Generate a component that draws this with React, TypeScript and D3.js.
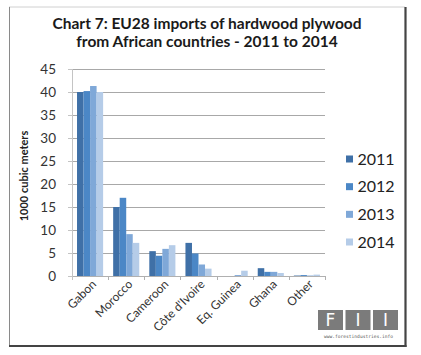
import React from "react";
import * as d3 from "d3";

const categories = ["Gabon", "Morocco", "Cameroon", "Côte d'Ivoire", "Eq. Guinea", "Ghana", "Other"];
const years = ["2011", "2012", "2013", "2014"];
const values2011 = [40, 15, 5.4, 7.2, 0, 1.7, 0.1];
const values2012 = [40.2, 17, 4.4, 4.9, 0, 0.9, 0.2];
const values2013 = [41.3, 9.1, 5.9, 2.5, 0.2, 0.9, 0.1];
const values2014 = [40, 7.2, 6.7, 1.6, 1.15, 0.65, 0.3];
const yTicks = [0, 5, 10, 15, 20, 25, 30, 35, 40, 45];
const colors = ["#3f70a7", "#4b87c6", "#7fa8d8", "#b5cce8"];

const series = [values2011, values2012, values2013, values2014];

export default function App() {
  const W = 421, H = 355;
  const left = 72, right = 325, top = 69, bottom = 276;
  const x = d3.scaleBand<string>().domain(categories).range([left, right]).paddingInner(0).paddingOuter(0);
  const y = d3.scaleLinear().domain([0, 45]).range([bottom, top]);
  const xs = d3.scaleBand<string>().domain(years).range([0, x.bandwidth()]).paddingInner(0).paddingOuter(0.77);
  const font = "Lato, 'Open Sans', sans-serif";
  const legendY = d3.scalePoint<string>().domain(years).range([159, 242]);

  return (
    <svg width={W} height={H} style={{ position: "absolute", left: 0, top: 0, background: "#fff" }}>
      <rect x={0} y={0} width={W} height={H} fill="#fff" />
      {/* frame */}
      <line x1={9} y1={7} x2={405} y2={7} stroke="#d0d0d0" strokeWidth={1} />
      <line x1={9.5} y1={7} x2={9.5} y2={346} stroke="#8a8a8a" strokeWidth={1} />
      <line x1={405.5} y1={7} x2={405.5} y2={347} stroke="#444" strokeWidth={2.2} />
      <line x1={9} y1={346} x2={406.5} y2={346} stroke="#444" strokeWidth={2.2} />

      {/* title */}
      <text x={207} y={29} textAnchor="middle" fontFamily={font} fontWeight="bold" fontSize={15.5} fill="#1a1a1a">
        Chart 7: EU28 imports of hardwood plywood
      </text>
      <text x={207} y={47} textAnchor="middle" fontFamily={font} fontWeight="bold" fontSize={15.5} fill="#1a1a1a">
        from African countries - 2011 to 2014
      </text>

      {/* gridlines */}
      {yTicks.map((t) => (
        <line key={t} x1={left} x2={right} y1={Math.round(y(t)) + 0.5} y2={Math.round(y(t)) + 0.5}
          stroke={t === 0 ? "#b0b0b0" : "#a8a8a8"} strokeWidth={1} />
      ))}
      <line x1={left + 0.5} x2={left + 0.5} y1={top} y2={bottom + 4} stroke="#c4c4c4" />
      {yTicks.map((t) => (
        <line key={"yt" + t} x1={left - 4} x2={left} y1={Math.round(y(t)) + 0.5} y2={Math.round(y(t)) + 0.5} stroke="#c4c4c4" />
      ))}
      {categories.map((c) => (
        <line key={"xt" + c} x1={Math.round((x(c) as number) + x.bandwidth()) + 0.5} x2={Math.round((x(c) as number) + x.bandwidth()) + 0.5}
          y1={bottom} y2={bottom + 4} stroke="#b0b0b0" />
      ))}

      {/* y labels */}
      {yTicks.map((t) => (
        <text key={"yl" + t} x={56} y={y(t) + 4.5} textAnchor="end" fontFamily={font} fontSize={13.5} fill="#333">
          {t}
        </text>
      ))}
      <text transform={`translate(28,176) rotate(-90)`} textAnchor="middle" fontFamily={font} fontWeight="bold" fontSize={11} fill="#222">
        1000 cubic meters
      </text>

      {/* bars */}
      {series.map((vals, si) =>
        vals.map((v, ci) => (
          <rect key={si + "-" + ci}
            x={(x(categories[ci]) as number) + (xs(years[si]) as number)}
            width={xs.bandwidth()}
            y={y(v)}
            height={bottom - y(v)}
            fill={colors[si]} />
        ))
      )}

      {/* x labels */}
      {categories.map((c) => {
        const cx = (x(c) as number) + x.bandwidth() / 2 + 7;
        return (
          <text key={"xl" + c} transform={`translate(${cx},${bottom + 9}) rotate(-45)`} textAnchor="end"
            fontFamily={font} fontSize={12} fill="#333">
            {c}
          </text>
        );
      })}

      {/* legend */}
      {years.map((yr, i) => (
        <g key={"lg" + yr}>
          <rect x={346} y={(legendY(yr) as number) - 3.5} width={7} height={7} fill={colors[i]} />
          <text x={357.5} y={(legendY(yr) as number) + 5.5} fontFamily={font} fontSize={16} fill="#222">{yr}</text>
        </g>
      ))}

      {/* logo */}
      {[0, 1, 2].map((i) => (
        <rect key={"lb" + i} x={318 + i * 27.5} y={310} width={25} height={20} fill="#7b7b7b" />
      ))}
      <text x={330.5} y={326} textAnchor="middle" fontFamily="'DejaVu Sans', sans-serif" fontSize={17} fill="#fff">F</text>
      <text x={358} y={326} textAnchor="middle" fontFamily="'DejaVu Sans', sans-serif" fontSize={17} fill="#fff">I</text>
      <text x={385.5} y={326} textAnchor="middle" fontFamily="'DejaVu Sans', sans-serif" fontSize={17} fill="#fff">I</text>
      <text x={358.5} y={338} textAnchor="middle" fontFamily="'DejaVu Sans Mono', monospace" fontSize={4.6} fill="#555">
        www.forestindustries.info
      </text>
    </svg>
  );
}
